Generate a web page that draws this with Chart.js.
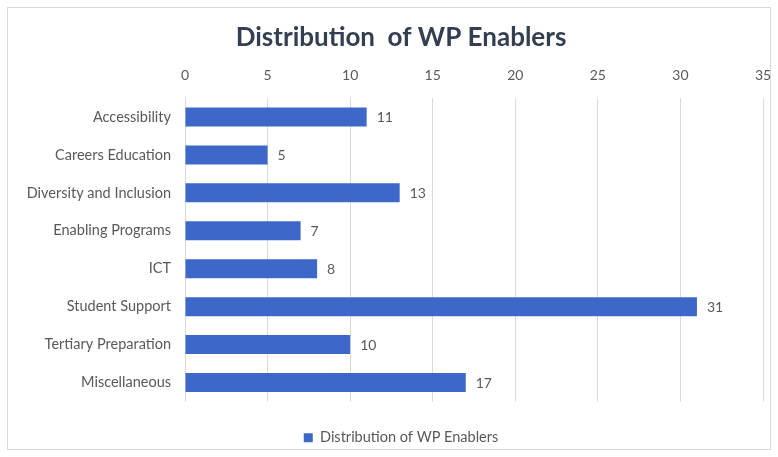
<!DOCTYPE html>
<html>
<head>
<meta charset="utf-8">
<script src="https://cdn.jsdelivr.net/npm/chart.js@4"></script>
<style>
  html, body { margin: 0; padding: 0; background: #fff; }
  #wrap { width: 778px; height: 457px; position: relative; }
</style>
</head>
<body>
<div id="wrap"><canvas id="chart" width="778" height="457"></canvas></div>
<script>
const categories = [
  'Accessibility',
  'Careers Education',
  'Diversity and Inclusion',
  'Enabling Programs',
  'ICT',
  'Student Support',
  'Tertiary Preparation',
  'Miscellaneous'
];
const enablerCounts = [11, 5, 13, 7, 8, 31, 10, 17];
const axisTicks = [0, 5, 10, 15, 20, 25, 30, 35];

const textGray = '#595959';
const barBlue = '#3d67c9';
const fontFamily = 'Lato, "Open Sans", sans-serif';

// frame round the whole chart, like the Excel chart border
const framePlugin = {
  id: 'frame',
  beforeDraw(chart) {
    const ctx = chart.ctx;
    ctx.save();
    ctx.fillStyle = '#ffffff';
    ctx.fillRect(0, 0, chart.width, chart.height);
    ctx.strokeStyle = '#d9d9d9';
    ctx.lineWidth = 1;
    ctx.strokeRect(7.5, 7.5, chart.width - 15, chart.height - 15);
    ctx.restore();
  }
};

// value labels to the right of each bar
const valueLabels = {
  id: 'valueLabels',
  afterDatasetsDraw(chart) {
    const ctx = chart.ctx;
    const meta = chart.getDatasetMeta(0);
    ctx.save();
    ctx.fillStyle = textGray;
    ctx.font = '14px ' + fontFamily;
    ctx.textAlign = 'left';
    ctx.textBaseline = 'middle';
    meta.data.forEach((bar, i) => {
      ctx.fillText(String(chart.data.datasets[0].data[i]), bar.x + 10, bar.y + 1);
    });
    ctx.restore();
  }
};

new Chart(document.getElementById('chart').getContext('2d'), {
  type: 'bar',
  plugins: [framePlugin, valueLabels],
  data: {
    labels: categories,
    datasets: [{
      label: 'Distribution of WP Enablers',
      data: enablerCounts,
      backgroundColor: barBlue,
      borderWidth: 0,
      barPercentage: 0.5,
      categoryPercentage: 1.0
    }]
  },
  options: {
    indexAxis: 'y',
    responsive: false,
    animation: false,
    layout: {
      // left padding is wider than the labels need so title and legend sit centred like the original
      padding: { left: 39, right: 15, top: 0, bottom: 2 }
    },
    scales: {
      x: {
        position: 'top',
        min: 0,
        max: 35,
        afterBuildTicks: scale => {
          scale.ticks = axisTicks.map(v => ({ value: v }));
        },
        // keep the end labels from shrinking the plot area
        afterFit: scale => { scale.paddingLeft = 0; scale.paddingRight = 0; },
        grid: { color: '#d9d9d9', drawTicks: false },
        border: { display: false },
        ticks: {
          color: textGray,
          padding: 14,
          font: { family: fontFamily, size: 14 }
        }
      },
      y: {
        afterFit: scale => {
          scale.width = 146;
          // long category names run past the axis box, so don't clip them
          scale._computeLabelArea = () => null;
        },
        grid: { display: false, drawTicks: false },
        border: { display: false },
        ticks: {
          color: textGray,
          padding: 14,
          font: { family: fontFamily, size: 14.5 }
        }
      }
    },
    plugins: {
      title: {
        display: true,
        text: 'Distribution  of WP Enablers',
        color: '#333f50',
        padding: { top: 22, bottom: 0 },
        font: { family: fontFamily, size: 26, weight: 'bold' }
      },
      legend: {
        position: 'bottom',
        labels: {
          color: textGray,
          boxWidth: 9,
          boxHeight: 9,
          padding: 29,
          font: { family: fontFamily, size: 14.5 }
        }
      },
      tooltip: { enabled: false }
    }
  }
});
</script>
</body>
</html>
